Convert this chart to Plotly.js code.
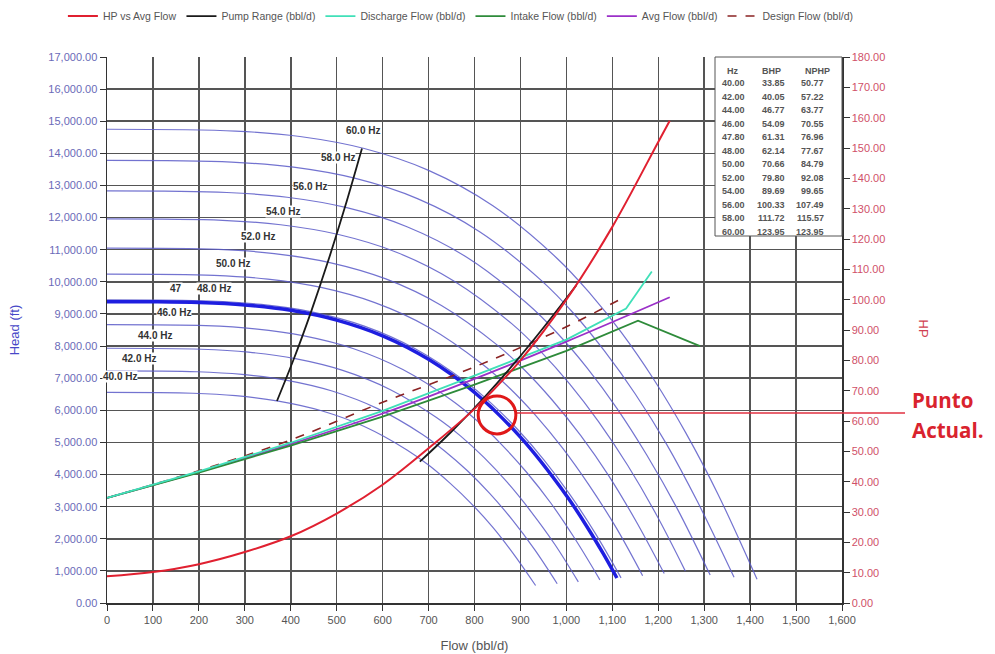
<!DOCTYPE html>
<html><head><meta charset="utf-8">
<script src="https://cdn.plot.ly/plotly-3.0.1.min.js"></script>
<style>html,body{margin:0;padding:0;background:#fff;} #chart{width:995px;height:654px;}</style>
</head><body><div id="chart"></div>
<script>
// ---- Frequency head curves (flow bbl/d, head ft) ----
const f40Flow = [0,187,280,373,467,560,653,700,746,793,840,886,933];
const f40Head = [6555,6530,6455,6288,5986,5496,4767,4295,3740,3096,2354,1506,544];
const f42Flow = [0,196,294,392,490,588,686,735,784,833,882,931,980];
const f42Head = [7227,7200,7116,6933,6600,6060,5256,4735,4124,3413,2595,1660,600];
const f44Flow = [0,205,308,410,513,616,718,770,821,872,923,975,1026];
const f44Head = [7931,7901,7810,7608,7243,6650,5768,5196,4525,3746,2848,1822,658];
const f46Flow = [0,215,322,429,537,644,751,805,858,912,966,1019,1073];
const f46Head = [8669,8636,8536,8316,7917,7269,6305,5680,4947,4094,3113,1991,720];
const f48Flow = [0,224,336,448,560,671,783,839,895,951,1007,1063,1119];
const f48Head = [9439,9403,9295,9055,8620,7915,6865,6184,5386,4458,3390,2168,783];
const f50Flow = [0,233,350,466,583,700,816,875,933,991,1049,1108,1166];
const f50Head = [10242,10203,10085,9825,9353,8588,7449,6711,5844,4837,3678,2353,850];
const f52Flow = [0,243,364,485,607,728,849,910,970,1031,1092,1152,1213];
const f52Head = [11050,11008,10881,10600,10091,9265,8037,7240,6305,5219,3968,2538,917];
const f54Flow = [0,252,378,504,630,755,881,944,1007,1070,1133,1196,1259];
const f54Head = [11960,11915,11777,11473,10922,10028,8698,7836,6824,5649,4295,2747,993];
const f56Flow = [0,261,392,522,653,784,914,980,1045,1110,1175,1241,1313];
const f56Head = [12830,12781,12634,12308,11716,10758,9331,8406,7321,6060,4607,2947,870];
const f58Flow = [0,271,406,541,677,812,947,1015,1082,1150,1218,1285,1365];
const f58Head = [13780,13728,13569,13219,12584,11555,10022,9029,7863,6508,4948,3165,800];
const f60Flow = [0,280,420,560,700,840,980,1050,1120,1190,1260,1330,1415];
const f60Head = [14750,14694,14524,14150,13470,12368,10728,9664,8416,6966,5297,3388,740];
// operating frequency 47.8 Hz (thick curve)
const f478Flow = [0,100,200,300,400,500,600,700,800,900,1000,1050,1080,1110];
const f478Head = [9380,9378,9355,9279,9112,8808,8318,7586,6556,5163,3348,2259,1543,778];

// ---- Other series ----
const hpFlow   = [0,100,200,300,400,500,600,700,800,900,1000,1100,1200,1225];
const hpValues = [8.8,10.2,12.8,16.8,22,29.5,39,51,64,80,100,124,152,159];

const pumpRangeFlow = [370,407,444,481,518,555,null,681,749,817,885,953,1022];
const pumpRangeHead = [6290,7611,9058,10630,12328,14153,null,4400,5324,6336,7436,8624,9900];

const dischargeFlow = [0,200,400,600,800,1000,1130,1186];
const dischargeHead = [3270,4100,4990,5980,7080,8200,9170,10320];
const intakeFlow = [0,200,400,600,800,1000,1156,1291];
const intakeHead = [3270,4060,4900,5800,6800,7850,8790,8000];
const avgFlow = [0,200,400,600,800,1000,1225];
const avgHead = [3270,4080,4950,5900,6980,8140,9520];
const designFlow = [0,200,400,600,800,1000,1128];
const designHead = [3270,4120,5080,6250,7350,8600,9540];

// current point
const puntoFlow = 849, puntoHead = 5853, puntoHP = 62.6;

// ---- Curve labels ----
const curveLabels = ['40.0 Hz','42.0 Hz','44.0 Hz','46.0 Hz','47','48.0 Hz','50.0 Hz','52.0 Hz','54.0 Hz','56.0 Hz','58.0 Hz','60.0 Hz'];
const labelPosFlow = [28,70,104,146,150,233,274,329,383,442,503,557];
const labelPosHead = [7067,7628,8344,9060,9807,9807,10585,11398,12204,12983,13882,14726];

// ---- Table ----
const tableHz  = [40.00,42.00,44.00,46.00,47.80,48.00,50.00,52.00,54.00,56.00,58.00,60.00];
const tableBHP = [33.85,40.05,46.77,54.09,61.31,62.14,70.66,79.80,89.69,100.33,111.72,123.95];
const tableNPHP= [50.77,57.22,63.77,70.55,76.96,77.67,84.79,92.08,99.65,107.49,115.57,123.95];

const thinColor = 'rgba(90,90,200,0.85)';
const traces = [];
const thinSets = [[f40Flow,f40Head],[f42Flow,f42Head],[f44Flow,f44Head],[f46Flow,f46Head],[f48Flow,f48Head],
  [f50Flow,f50Head],[f52Flow,f52Head],[f54Flow,f54Head],[f56Flow,f56Head],[f58Flow,f58Head],[f60Flow,f60Head]];
thinSets.forEach(s => traces.push({x:s[0], y:s[1], type:'scatter', mode:'lines', line:{color:thinColor, width:1.2, shape:'spline'}, showlegend:false, hoverinfo:'skip'}));
traces.push({x:f478Flow, y:f478Head, type:'scatter', mode:'lines', line:{color:'#1e1ee0', width:3.5, shape:'spline'}, showlegend:false});

traces.push({x:designFlow, y:designHead, name:'Design Flow (bbl/d)', type:'scatter', mode:'lines', line:{color:'#8b2323', width:1.6, dash:'dash', shape:'spline'}, legendrank:6});
traces.push({x:avgFlow, y:avgHead, name:'Avg Flow (bbl/d)', type:'scatter', mode:'lines', line:{color:'#9b30c8', width:1.8, shape:'spline'}, legendrank:5});
traces.push({x:intakeFlow, y:intakeHead, name:'Intake Flow (bbl/d)', type:'scatter', mode:'lines', line:{color:'#2e8b3a', width:1.8}, legendrank:4});
traces.push({x:dischargeFlow, y:dischargeHead, name:'Discharge Flow (bbl/d)', type:'scatter', mode:'lines', line:{color:'#40e0b8', width:1.8}, legendrank:3});
traces.push({x:pumpRangeFlow, y:pumpRangeHead, name:'Pump Range (bbl/d)', type:'scatter', mode:'lines', connectgaps:false, line:{color:'#1a1a1a', width:1.8, shape:'spline'}, legendrank:2});
traces.push({x:hpFlow, y:hpValues, yaxis:'y2', name:'HP vs Avg Flow', type:'scatter', mode:'lines', line:{color:'#e02030', width:2, shape:'spline'}, legendrank:1});

const annotations = curveLabels.map((t,i) => ({x:labelPosFlow[i], y:labelPosHead[i], xref:'x', yref:'y', text:t, showarrow:false,
  font:{family:'Liberation Sans, Arial', size:10, color:'#333', weight:'bold'}, bgcolor:'#fff', borderpad:0}));

// table annotations
const px2x = px => (px-107)/735;
const py2y = py => (603-py)/546;
const tFont = {family:'Liberation Sans, Arial', size:9, color:'#555', weight:'bold'};
[['Hz',725],['BHP',760],['NPHP',803]].forEach(h => annotations.push({xref:'paper', yref:'paper', x:px2x(h[1]), y:py2y(71), xanchor:'left', yanchor:'middle', text:h[0], showarrow:false, font:tFont}));
tableHz.forEach((v,i) => {
  const yy = py2y(83 + 13.55*i);
  annotations.push({xref:'paper', yref:'paper', x:px2x(747), y:yy, xanchor:'right', yanchor:'middle', text:v.toFixed(2), showarrow:false, font:tFont});
  annotations.push({xref:'paper', yref:'paper', x:px2x(787), y:yy, xanchor:'right', yanchor:'middle', text:tableBHP[i].toFixed(2), showarrow:false, font:tFont});
  annotations.push({xref:'paper', yref:'paper', x:px2x(826), y:yy, xanchor:'right', yanchor:'middle', text:tableNPHP[i].toFixed(2), showarrow:false, font:tFont});
});
// Punto Actual
const pFont = {family:'Open Sans, Arial', size:20.5, color:'#d9232e', weight:'bold'};
annotations.push({xref:'paper', yref:'paper', x:px2x(910), y:py2y(400), xanchor:'left', yanchor:'middle', text:'Punto', showarrow:false, font:pFont});
annotations.push({xref:'paper', yref:'paper', x:px2x(910), y:py2y(430), xanchor:'left', yanchor:'middle', text:'Actual.', showarrow:false, font:pFont});
// HP axis title
annotations.push({xref:'paper', yref:'paper', x:px2x(933), y:py2y(328), text:'HP', textangle:90, showarrow:false, font:{family:'Liberation Sans, Arial', size:13, color:'#d04050'}});

const shapes = [
  {type:'rect', xref:'paper', yref:'paper', x0:px2x(715), x1:1, y0:py2y(236), y1:1, fillcolor:'#fff', line:{color:'#555', width:1}, layer:'above'},
  {type:'line', xref:'x', yref:'y2', x0:puntoFlow+41, x1:1600, y0:puntoHP, y1:puntoHP, line:{color:'#e03040', width:1.5}},
  {type:'line', xref:'paper', yref:'y2', x0:1, x1:px2x(905), y0:puntoHP, y1:puntoHP, line:{color:'#e03040', width:1.5}},
  {type:'circle', xref:'x', yref:'y', x0:puntoFlow-41, x1:puntoFlow+41, y0:puntoHead-590, y1:puntoHead+590, line:{color:'#e01818', width:3}}
];

const axFont = {family:'Liberation Sans, Arial', size:11};
const layout = {
  width:995, height:654,
  margin:{l:107, r:153, t:57, b:51, autoexpand:false},
  paper_bgcolor:'#fff', plot_bgcolor:'#fff',
  showlegend:true,
  legend:{orientation:'h', x:-0.06, xanchor:'left', y:1.075, yanchor:'middle', font:{family:'Liberation Sans, Arial', size:10.5, color:'#555'}, bgcolor:'rgba(0,0,0,0)', traceorder:'normal'},
  xaxis:{range:[0,1600], dtick:100, tickformat:',d', showgrid:true, gridcolor:'#555', gridwidth:1.5, zeroline:false, automargin:false,
    showline:true, linecolor:'#333', linewidth:1.5, ticks:'outside', ticklen:6, tickcolor:'#333',
    tickfont:Object.assign({color:'#555'}, axFont),
    title:{text:'Flow (bbl/d)', font:{family:'Liberation Sans, Arial', size:13, color:'#555'}, standoff:16}},
  yaxis:{range:[0,17000], dtick:1000, tickformat:',.2f', showgrid:true, gridcolor:'#555', gridwidth:1.5, zeroline:false, automargin:false,
    showline:true, linecolor:'#333', linewidth:1.5, ticks:'outside', ticklen:6, tickcolor:'#333',
    tickfont:Object.assign({color:'#6a6ab8'}, axFont),
    title:{text:'Head (ft)', font:{family:'Liberation Sans, Arial', size:13, color:'#4848c8'}, standoff:26}},
  yaxis2:{range:[0,180], dtick:10, tickformat:'.2f', overlaying:'y', side:'right', showgrid:false, zeroline:false, automargin:false,
    showline:true, linecolor:'#333', linewidth:1.5, ticks:'outside', ticklen:6, tickcolor:'#333',
    tickfont:Object.assign({color:'#d05068'}, axFont)},
  annotations:annotations,
  shapes:shapes
};
Plotly.newPlot('chart', traces, layout, {staticPlot:true});
</script></body></html>
